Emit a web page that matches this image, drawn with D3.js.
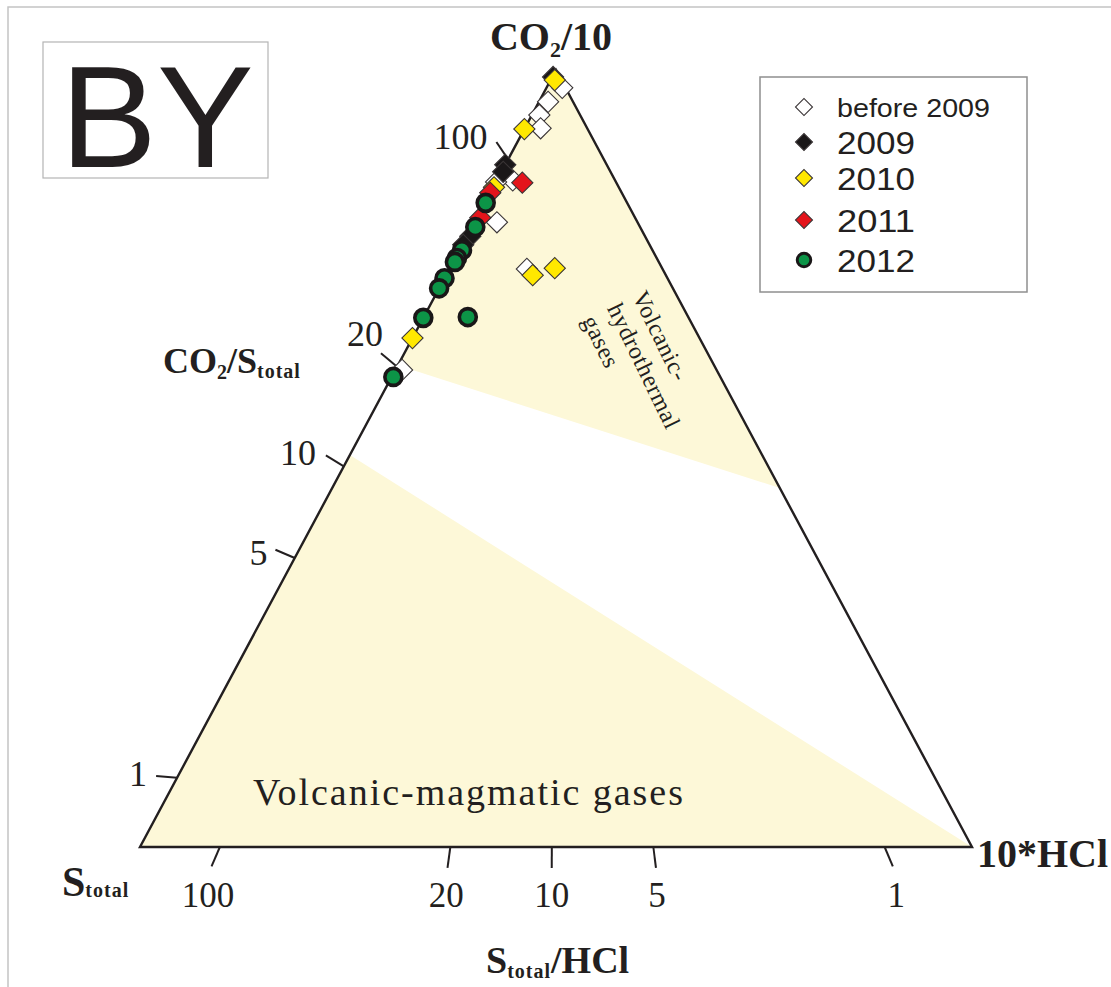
<!DOCTYPE html>
<html>
    <head>
        <title>BY ternary gas diagram</title>
        <script src="https://d3js.org/d3.v7.min.js"></script>
        <style>
            body {
                margin: 0;
                background: #ffffff;
                overflow: hidden;
            }
            svg {
                display: block;
            }
            .serif {
                font-family: 'Liberation Serif', 'Times New Roman', serif;
                fill: #231f20;
            }
            .sans {
                font-family: 'Liberation Sans', Arial, sans-serif;
                fill: #231f20;
            }
        </style>
    </head>
    <body>
        <script>
            // ternary data: [CO2/10 fraction, 10*HCl fraction]; S_total is the rest
            const seriesNames = ['before 2009', '2009', '2010', '2011', '2012'];
            const before2009 = [
                [0.977, 0.019], [0.959, 0.011], [0.942, 0.009], [0.925, 0.019],
                [0.858, 0.019], [0.856, 0.0], [0.804, 0.027], [0.614, 0.008], [0.744, 0.093]
            ];
            const y2009 = [[0.991, 0.001], [0.878, 0.0], [0.869, 0.002], [0.786, 0.004], [0.775, 0.001]];
            const y2010 = [[0.987, 0.005], [0.924, 0.0], [0.849, 0.001], [0.655, 0.0], [0.736, 0.104], [0.745, 0.126]];
            const y2011 = [[0.855, 0.032], [0.842, 0.0], [0.81, 0.004]];
            const y2012 = [
                [0.829, 0.001], [0.798, 0.004], [0.768, 0.003], [0.758, 0.002], [0.753, 0.002],
                [0.732, 0.0], [0.719, 0.0], [0.681, 0.0], [0.605, 0.002], [0.682, 0.053]
            ];

            // CO2/S_total ticks on the left edge (CO2/10 fraction) and S_total/HCl ticks on the base (HCl fraction)
            const leftTickLabels = ['100', '20', '10', '5', '1'];
            const leftTickPos = [0.885, 0.618, 0.49, 0.372, 0.089];
            const bottomTickLabels = ['100', '20', '10', '5', '1'];
            const bottomTickPos = [0.096, 0.373, 0.495, 0.617, 0.895];

            // field boundaries: CO2/10 fraction where they meet the edges
            const hydroLeft = 0.62;
            const hydroRight = 0.462;
            const magmaLeft = 0.5045;

            const width = 1111;
            const height = 987;
            const svg = d3.select('body').append('svg').attr('width', width).attr('height', height);

            const x = d3.scaleLinear().domain([0, 1]).range([140, 972]);
            const y = d3.scaleLinear().domain([0, 1]).range([847, 70]);
            const proj = (a, c) => [x(c + a / 2), y(a)];

            const apex = proj(1, 0);
            const left = proj(0, 0);
            const right = proj(0, 1);

            // outer frame and title box
            svg.append('rect').attr('x', 8).attr('y', 7).attr('width', 1200).attr('height', 1100)
                .attr('fill', 'none').attr('stroke', '#c4c4c4').attr('stroke-width', 1.5);
            svg.append('rect').attr('x', 43).attr('y', 42).attr('width', 225).attr('height', 136)
                .attr('fill', 'none').attr('stroke', '#b4b4b4').attr('stroke-width', 1.2);
            svg.append('text').attr('class', 'sans').attr('x', 157).attr('y', 167)
                .attr('text-anchor', 'middle').attr('font-size', 145).text('BY');

            // shaded fields
            const fieldFill = '#fdf8d8';
            svg.append('path')
                .attr('d', d3.line()([apex, proj(hydroLeft, 0), proj(hydroRight, 1 - hydroRight)]) + 'Z')
                .attr('fill', fieldFill);
            svg.append('path')
                .attr('d', d3.line()([left, proj(magmaLeft, 0), right]) + 'Z')
                .attr('fill', fieldFill);

            // triangle
            svg.append('path').attr('d', d3.line()([apex, left, right]) + 'Z')
                .attr('fill', 'none').attr('stroke', '#231f20').attr('stroke-width', 2.4)
                .attr('stroke-linejoin', 'miter');

            // ticks: constant-ratio lines pass through the opposite corner
            const tickLen = 21;
            function tickEnd(p, from) {
                const dx = p[0] - from[0];
                const dy = p[1] - from[1];
                const len = Math.hypot(dx, dy);
                return [p[0] + (dx / len) * tickLen, p[1] + (dy / len) * tickLen];
            }
            const leftNudge = { '100': [-9, 7], '20': [2, -7], '10': [-10, 10], '5': [-8, 15], '1': [-9, 10] };
            leftTickPos.forEach((a, i) => {
                const p = proj(a, 0);
                const e = tickEnd(p, right);
                svg.append('line').attr('x1', p[0]).attr('y1', p[1]).attr('x2', e[0]).attr('y2', e[1])
                    .attr('stroke', '#231f20').attr('stroke-width', 2);
                const n = leftNudge[leftTickLabels[i]];
                svg.append('text').attr('class', 'serif').attr('font-size', 36)
                    .attr('text-anchor', 'end').attr('x', e[0] + n[0]).attr('y', e[1] + n[1])
                    .text(leftTickLabels[i]);
            });
            bottomTickPos.forEach((c, i) => {
                const p = proj(0, c);
                const e = tickEnd(p, apex);
                svg.append('line').attr('x1', p[0]).attr('y1', p[1]).attr('x2', e[0]).attr('y2', e[1])
                    .attr('stroke', '#231f20').attr('stroke-width', 2);
                const lx = p[0] + ((e[0] - p[0]) / tickLen) * 30;
                svg.append('text').attr('class', 'serif').attr('font-size', 35)
                    .attr('text-anchor', 'middle').attr('x', lx).attr('y', 907)
                    .text(bottomTickLabels[i]);
            });

            // axis titles
            const t1 = svg.append('text').attr('class', 'serif').attr('font-weight', 'bold')
                .attr('font-size', 40).attr('x', 551).attr('y', 50).attr('text-anchor', 'middle');
            t1.append('tspan').text('CO');
            t1.append('tspan').attr('font-size', 22).attr('dy', 7).text('2');
            t1.append('tspan').attr('dy', -7).text('/10');

            const t2 = svg.append('text').attr('class', 'serif').attr('font-weight', 'bold')
                .attr('font-size', 36).attr('x', 163).attr('y', 373);
            t2.append('tspan').text('CO');
            t2.append('tspan').attr('font-size', 20).attr('dy', 6).text('2');
            t2.append('tspan').attr('dy', -6).text('/S');
            t2.append('tspan').attr('font-size', 20).attr('dy', 5).attr('letter-spacing', 1).text('total');

            const t3 = svg.append('text').attr('class', 'serif').attr('font-weight', 'bold')
                .attr('font-size', 42).attr('x', 62).attr('y', 896);
            t3.append('tspan').text('S');
            t3.append('tspan').attr('font-size', 20).attr('dy', 1).attr('letter-spacing', 1).text('total');

            svg.append('text').attr('class', 'serif').attr('font-weight', 'bold')
                .attr('font-size', 40).attr('x', 977).attr('y', 867).text('10*HCl');

            const t4 = svg.append('text').attr('class', 'serif').attr('font-weight', 'bold')
                .attr('font-size', 38).attr('x', 486).attr('y', 973);
            t4.append('tspan').text('S');
            t4.append('tspan').attr('font-size', 20).attr('dy', 5).attr('letter-spacing', 1).text('total');
            t4.append('tspan').attr('dy', -5).text('/HCl');

            // field names
            svg.append('text').attr('class', 'serif').attr('font-size', 38)
                .attr('x', 253).attr('y', 805).attr('textLength', 430).attr('lengthAdjust', 'spacing')
                .text('Volcanic-magmatic gases');
            const hydro = svg.append('g').attr('transform', 'translate(632,296) rotate(64)');
            ['Volcanic-', 'hydrothermal', 'gases'].forEach((s, i) => {
                hydro.append('text').attr('class', 'serif').attr('font-size', 24)
                    .attr('letter-spacing', 0.6).attr('x', 0).attr('y', i * 28).text(s);
            });

            // data points
            const styles = {
                'before 2009': { fill: '#ffffff', shape: 'diamond' },
                '2009': { fill: '#1a1718', shape: 'diamond' },
                '2010': { fill: '#ffe800', shape: 'diamond' },
                '2011': { fill: '#e4141b', shape: 'diamond' },
                '2012': { fill: '#0c9447', shape: 'circle' }
            };
            const seriesData = [before2009, y2009, y2010, y2011, y2012];

            function drawMark(g, name, px, py, scale) {
                const st = styles[name];
                if (st.shape === 'circle') {
                    g.append('circle').attr('cx', px).attr('cy', py).attr('r', 8.5 * scale)
                        .attr('fill', st.fill).attr('stroke', '#1a1718').attr('stroke-width', 3.6 * scale);
                } else {
                    g.append('path').attr('d', d3.symbol().type(d3.symbolSquare).size(225 * scale * scale)())
                        .attr('transform', `translate(${px},${py}) rotate(45)`)
                        .attr('fill', st.fill).attr('stroke', '#3a3536').attr('stroke-width', 1.1);
                }
            }

            const marks = svg.append('g');
            seriesData.forEach((pts, i) => {
                pts.forEach((d) => {
                    const p = proj(d[0], d[1]);
                    drawMark(marks, seriesNames[i], p[0], p[1], 1);
                });
            });

            // legend
            const legend = svg.append('g');
            legend.append('rect').attr('x', 760).attr('y', 77).attr('width', 267).attr('height', 215)
                .attr('fill', '#ffffff').attr('stroke', '#8f8f8f').attr('stroke-width', 1.5);
            const legendRows = [107, 142, 178, 220, 260];
            seriesNames.forEach((name, i) => {
                drawMark(legend, name, 804, legendRows[i], 0.8);
                const small = name === 'before 2009';
                legend.append('text').attr('class', 'sans')
                    .attr('x', 837).attr('y', legendRows[i] + (small ? 10 : 12))
                    .attr('font-size', small ? 25 : 32)
                    .attr('textLength', small ? 153 : 78).attr('lengthAdjust', 'spacingAndGlyphs')
                    .text(name);
            });
        </script>
    </body>
</html>
